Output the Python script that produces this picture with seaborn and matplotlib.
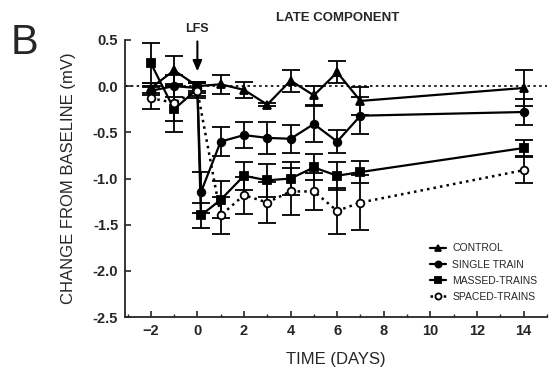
import numpy as np
import pandas as pd
import matplotlib
matplotlib.use("Agg")
import matplotlib.pyplot as plt
import seaborn as sns

# Mean change from baseline (mV) and SEM for each group
control_days = [-2, -1, 0, 1, 2, 3, 4, 5, 6, 7, 14]
control_mean = [-0.02, 0.17, 0.0, 0.02, -0.04, -0.20, 0.06, -0.10, 0.15, -0.16, -0.02]
control_sem = [0.05, 0.16, 0.05, 0.10, 0.09, 0.02, 0.12, 0.10, 0.12, 0.15, 0.20]

single_days = [-2, -1, 0, 0.15, 1, 2, 3, 4, 5, 6, 7, 14]
single_mean = [-0.05, 0.0, -0.02, -1.15, -0.60, -0.53, -0.56, -0.57, -0.41, -0.60, -0.32, -0.28]
single_sem = [0.05, 0.12, 0.05, 0.22, 0.16, 0.14, 0.17, 0.15, 0.20, 0.12, 0.20, 0.14]

massed_days = [-2, -1, 0, 0.15, 1, 2, 3, 4, 5, 6, 7, 14]
massed_mean = [0.25, -0.25, -0.03, -1.40, -1.23, -0.97, -1.02, -1.00, -0.88, -0.97, -0.93, -0.67]
massed_sem = [0.22, 0.25, 0.08, 0.14, 0.20, 0.15, 0.18, 0.18, 0.14, 0.15, 0.12, 0.09]

spaced_days = [-2, -1, 0, 1, 2, 3, 4, 5, 6, 7, 14]
spaced_mean = [-0.13, -0.18, -0.05, -1.40, -1.18, -1.26, -1.14, -1.14, -1.35, -1.26, -0.91]
spaced_sem = [0.12, 0.20, 0.08, 0.20, 0.20, 0.22, 0.25, 0.20, 0.25, 0.30, 0.14]

groups = ["CONTROL", "SINGLE TRAIN", "MASSED-TRAINS", "SPACED-TRAINS"]
x_ticks = [-2, 0, 2, 4, 6, 8, 10, 12, 14]
y_ticks = [0.5, 0.0, -0.5, -1.0, -1.5, -2.0, -2.5]

frames = []
for g, d, m, s in zip(groups,
                      [control_days, single_days, massed_days, spaced_days],
                      [control_mean, single_mean, massed_mean, spaced_mean],
                      [control_sem, single_sem, massed_sem, spaced_sem]):
    frames.append(pd.DataFrame({"group": g, "day": d, "mean": m, "sem": s}))
df = pd.concat(frames, ignore_index=True)

sns.set_style("ticks")
plt.rcParams["font.family"] = ["Liberation Sans", "DejaVu Sans"]

fig = plt.figure(figsize=(5.49, 3.77), dpi=100)
ax = fig.add_axes([0.228, 0.159, 0.768, 0.735])

markers = {"CONTROL": "^", "SINGLE TRAIN": "o", "MASSED-TRAINS": "s", "SPACED-TRAINS": "o"}
styles = {"CONTROL": "-", "SINGLE TRAIN": "-", "MASSED-TRAINS": "-", "SPACED-TRAINS": ":"}
faces = {"CONTROL": "black", "SINGLE TRAIN": "black", "MASSED-TRAINS": "black", "SPACED-TRAINS": "white"}

# zero baseline
ax.axhline(0, color="black", lw=1.2, ls=(0, (1.5, 2)), zorder=1)

for g in groups:
    sub = df[df["group"] == g]
    ax.errorbar(sub["day"], sub["mean"], yerr=sub["sem"], fmt="none",
                ecolor="black", elinewidth=1.3, capsize=6.5, capthick=1.3, zorder=2)
    sns.lineplot(data=sub, x="day", y="mean", ax=ax, color="black",
                 linestyle=styles[g], linewidth=1.6 if g != "SPACED-TRAINS" else 1.8,
                 marker=markers[g], markersize=5.5, markerfacecolor=faces[g],
                 markeredgecolor="black", markeredgewidth=1.3,
                 label=g, sort=False, estimator=None, zorder=3)

ax.set_xlim(-3.1, 15)
ax.set_ylim(-2.5, 0.5)
ax.set_xticks(x_ticks)
ax.set_yticks(y_ticks)
ax.set_yticklabels([f"{v:.1f}" for v in y_ticks])
ax.set_xticks(np.arange(-3, 16, 1), minor=True)
ax.tick_params(axis="both", which="major", direction="in", length=4, width=1.2,
               labelsize=10.5, pad=5)
ax.tick_params(axis="x", which="minor", direction="in", length=2.5, width=1)
for lab in ax.get_xticklabels() + ax.get_yticklabels():
    lab.set_fontweight("bold")
for side in ("top", "right"):
    ax.spines[side].set_visible(False)
for side in ("left", "bottom"):
    ax.spines[side].set_linewidth(1.3)

ax.set_xlabel("TIME (DAYS)", fontsize=12, labelpad=10)
ax.set_ylabel("CHANGE FROM BASELINE (mV)", fontsize=12, labelpad=12)

leg = ax.legend(loc="lower right", bbox_to_anchor=(1.0, 0.02), frameon=False,
                fontsize=7.5, handlelength=1.5, handletextpad=0.6, labelspacing=0.6,
                markerscale=0.8)

# stimulation marker
ax.annotate("LFS", xy=(0, 0.16), xytext=(0, 0.55), ha="center", va="bottom",
            fontsize=9, fontweight="bold", annotation_clip=False,
            arrowprops=dict(arrowstyle="-|>,head_width=0.3,head_length=0.7",
                            color="black", lw=1.5, shrinkA=2, shrinkB=0))
fig.text(0.615, 0.952, "LATE COMPONENT", ha="center", va="center", fontsize=9.5,
         fontweight="bold")
fig.text(0.045, 0.885, "B", ha="center", va="center", fontsize=30)

fig.savefig("out.png", dpi=100)
